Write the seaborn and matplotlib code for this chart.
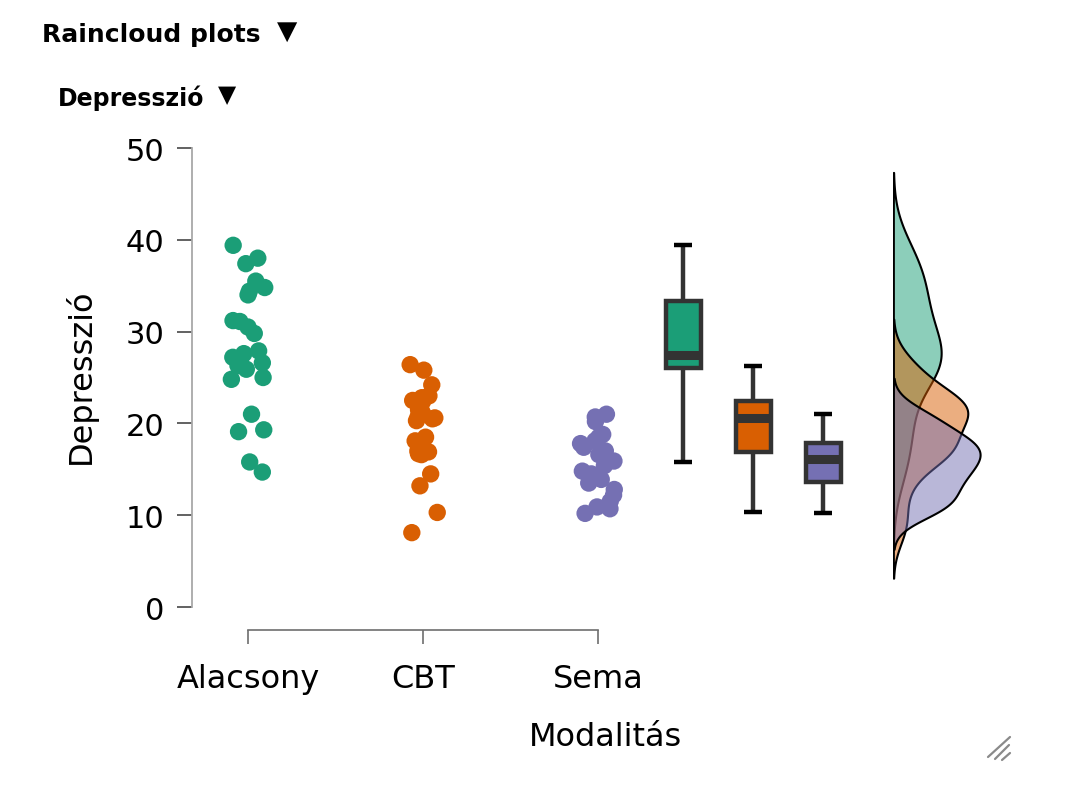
import numpy as np
import pandas as pd
import matplotlib
matplotlib.use("Agg")
import matplotlib.pyplot as plt
from matplotlib.lines import Line2D
import seaborn as sns

# ---------------- data ----------------
categories = ["Alacsony", "CBT", "Sema"]
colors = ["#1B9E77", "#D95F02", "#7570B3"]

alacsony = [39.4, 38.0, 37.4, 35.5, 34.8, 34.4, 34.0, 31.2, 31.1, 30.5, 29.8,
            27.9, 27.6, 27.2, 26.7, 26.6, 26.3, 25.9, 25.0, 24.8, 21.0, 19.3,
            19.1, 15.8, 14.7]
cbt = [26.4, 25.8, 24.2, 23.0, 22.8, 22.5, 22.4, 21.5, 21.2, 20.8, 20.6, 20.5,
       20.3, 18.5, 18.1, 17.3, 17.0, 16.9, 16.7, 16.6, 14.5, 13.2, 10.3, 8.1]
sema = [21.0, 20.7, 20.2, 18.8, 18.5, 18.1, 17.8, 17.4, 17.0, 16.6, 16.1, 15.9,
        15.4, 14.8, 14.5, 13.9, 13.5, 12.8, 12.2, 11.5, 10.9, 10.7, 10.2]

# box-plot statistics as drawn in the picture
box_whislo = [15.8, 10.3, 10.2]
box_q1 = [26.0, 16.9, 13.65]
box_med = [27.4, 20.6, 16.1]
box_q3 = [33.3, 22.4, 17.9]
box_whishi = [39.4, 26.3, 21.0]

yticks = [0, 10, 20, 30, 40, 50]
title = "Raincloud plots"
subtitle = "Depresszió"
xlabel = "Modalitás"
ylabel = "Depresszió"

groups = [alacsony, cbt, sema]
df = pd.DataFrame({
    "Modalitás": np.repeat(categories, [len(g) for g in groups]),
    "Depresszió": np.concatenate(groups),
})

# ---------------- figure ----------------
sns.set_theme(style="white")
plt.rcParams["font.family"] = ["DejaVu Sans"]
plt.rcParams["text.color"] = "black"
plt.rcParams["axes.labelcolor"] = "black"

W, H = 1086, 812
fig = plt.figure(figsize=(W / 100, H / 100), dpi=100)


def fx(px):
    return px / W


def fy(py):
    return 1 - py / H


x0_px, unit_px = 248, 175.0
ax = fig.add_axes([fx(192), fy(631), fx(893) - fx(192), fy(149) - fy(631)])

np.random.seed(7)
sns.stripplot(data=df, x="Modalitás", y="Depresszió", hue="Modalitás",
              order=categories, hue_order=categories, palette=colors,
              jitter=0.1, size=12.5, linewidth=0, legend=False, ax=ax, zorder=3)

# boxes
stats = []
for i in range(3):
    stats.append(dict(whislo=box_whislo[i], q1=box_q1[i], med=box_med[i],
                      q3=box_q3[i], whishi=box_whishi[i], fliers=[]))
box_pos = [2.486, 2.886, 3.286]
bp = ax.bxp(stats, positions=box_pos, widths=0.2, patch_artist=True,
            showfliers=False, manage_ticks=False, capwidths=0.1,
            boxprops=dict(edgecolor="#333333", linewidth=3.2),
            medianprops=dict(color="#333333", linewidth=6.5, solid_capstyle="butt"),
            whiskerprops=dict(color="#333333", linewidth=3.2, solid_capstyle="butt"),
            capprops=dict(color="black", linewidth=3.2, solid_capstyle="butt"))
for patch, c in zip(bp["boxes"], colors):
    patch.set_facecolor(c)

ax.set_xlim(-(x0_px - 192) / unit_px, (893 - x0_px) / unit_px)
ax.set_ylim(-23 / 9.18, 50)
ax.set_yticks(yticks)
ax.set_xticks([0, 1, 2])
ax.set_xticklabels(categories)
ax.set_xlabel("")
ax.set_ylabel("")
for s in ["top", "right"]:
    ax.spines[s].set_visible(False)
ax.spines["left"].set_bounds(0, 50)
ax.spines["left"].set_color("#a8a8a8")
ax.spines["left"].set_linewidth(1.3)
ax.spines["bottom"].set_bounds(0, 2)
ax.spines["bottom"].set_color("#6e6e6e")
ax.spines["bottom"].set_linewidth(1.2)
ax.tick_params(axis="y", length=11, width=1.3, color="#555555",
               labelsize=22, pad=9, labelcolor="black", left=True)
ax.tick_params(axis="x", length=10, width=1.2, color="#6e6e6e",
               labelsize=23, pad=14, labelcolor="black", bottom=True)

# densities
ax2 = fig.add_axes([fx(893), fy(631), fx(1010) - fx(893), fy(149) - fy(631)],
                   sharey=ax)
for vals, c in zip(groups, colors):
    v = np.asarray(vals)
    sd = v.std(ddof=1)
    iqr = np.subtract(*np.percentile(v, [75, 25]))
    bw = 0.9 * min(sd, iqr / 1.34) * len(v) ** (-0.2)
    sns.kdeplot(y=v, ax=ax2, fill=True, color=c, alpha=0.5, edgecolor="black",
                linewidth=1.5, bw_method=bw / sd, cut=2.5)
peak = 0
for coll in ax2.collections:
    for p in coll.get_paths():
        peak = max(peak, p.vertices[:, 0].max())
ax2.set_xlim(-peak * 0.004, peak * (1010 - 893) / 87.0)
ax2.axis("off")
ax.set_ylim(-23 / 9.18, 50)

# texts
fig.text(fx(42), fy(35), title, fontsize=18, fontweight="bold", ha="left", va="center")
fig.text(fx(287), fy(32), "▼", fontsize=19, fontweight="bold", ha="center", va="center")
fig.text(fx(58), fy(98), subtitle, fontsize=17, fontweight="bold", ha="left", va="center")
fig.text(fx(227), fy(95), "▼", fontsize=17, fontweight="bold", ha="center", va="center")
fig.text(fx(80), fy(376), ylabel, fontsize=23, rotation=90, ha="center", va="center")
fig.text(fx(606), fy(738), xlabel, fontsize=23, ha="center", va="center")

# resize grip glyph
for (xa, ya, xb, yb) in [(988, 758, 1010, 738), (995, 760, 1009, 746), (1002, 761, 1010, 754)]:
    fig.add_artist(Line2D([fx(xa), fx(xb)], [fy(ya), fy(yb)], color="#8a8a8a",
                          linewidth=1.6, transform=fig.transFigure))

fig.savefig("out.png", dpi=100, facecolor="white")
